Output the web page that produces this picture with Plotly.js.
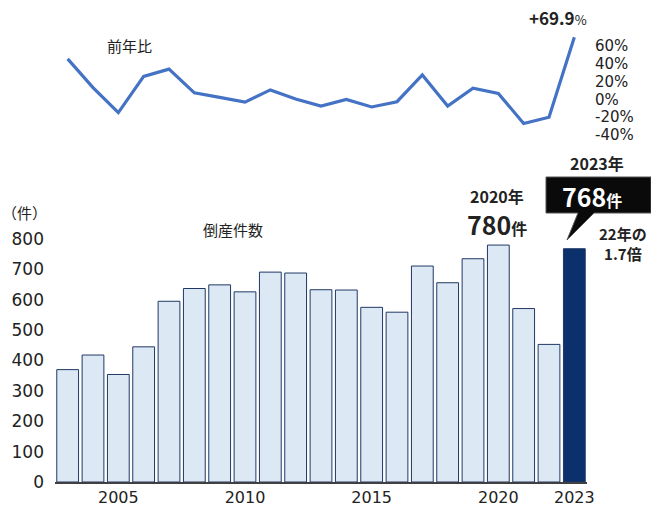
<!DOCTYPE html>
<html>
<head>
<meta charset="utf-8">
<script src="https://cdn.plot.ly/plotly-3.0.1.min.js"></script>
<style>html,body{margin:0;padding:0;background:#fff;}#chart{width:651px;height:506px;}</style>
</head>
<body>
<div id="chart"></div>
<script>
const years = [2003,2004,2005,2006,2007,2008,2009,2010,2011,2012,2013,2014,2015,2016,2017,2018,2019,2020,2021,2022,2023];
const cases = [370,418,354,445,595,637,649,626,691,688,633,632,575,559,711,656,735,780,571,453,768];
const yoy = [45.6,13.3,-14.8,25.9,34.0,7.4,2.2,-3.0,10.7,0.4,-7.4,0.0,-8.5,-2.6,27.4,-7.4,12.6,6.7,-27.0,-20.0,69.9];
const xTicks = [2005,2010,2015,2020,2023];
const yTicks = [0,100,200,300,400,500,600,700,800];
const y2Ticks = [-40,-20,0,20,40,60];
const y2Labels = ['-40%','-20%','0%','20%','40%','60%'];

const FONT = '"Noto Sans CJK JP", "Noto Sans", sans-serif';
const NUMFONT = '"DejaVu Sans", "Noto Sans CJK JP", sans-serif';
const W = 651, H = 506;
const mL = 55, mR = 64, mT = 10, mB = 24;
const pw = W - mL - mR, ph = H - mT - mB;
const px = v => (v - mL) / pw;
const py = v => (H - mB - v) / ph;

const barFill = years.map(y => y === 2023 ? '#0b306c' : '#dde8f5');

const traces = [
  {
    type: 'bar', x: years, y: cases, xaxis: 'x', yaxis: 'y',
    marker: {color: barFill, line: {color: '#1f3864', width: 1}},
    hoverinfo: 'skip'
  },
  {
    type: 'scatter', mode: 'lines', x: years, y: yoy, xaxis: 'x', yaxis: 'y2',
    line: {color: '#4472c4', width: 3.2},
    hoverinfo: 'skip'
  }
];

function ann(text, x, y, size, opts) {
  return Object.assign({
    text: text, x: px(x), y: py(y), xref: 'paper', yref: 'paper',
    showarrow: false, xanchor: 'center', yanchor: 'middle', borderpad: 0,
    font: {family: FONT, size: size, color: '#222'}
  }, opts || {});
}

const annotations = [
  ann('前年比', 129, 45, 15),
  ann('倒産件数', 233, 229, 15),
  ann('（件）', 24, 213, 15),
  ann('<b>+69.9</b><span style="font-size:13px">%</span>', 558, 18, 17),
  ann('<b>2020年</b>', 497, 196, 16),
  ann('<b>780<span style="font-size:16px">件</span></b>', 497, 224, 25),
  ann('<b>2023年</b>', 597, 163, 16),
  ann('<b><span style="font-size:25px">768</span>件</b>', 592, 196, 16, {font: {family: FONT, size: 16, color: '#fff'}}),
  ann('<b>22年の</b><br><b>1.7倍</b>', 623, 243, 15)
];

const calloutPath = 'M ' + px(546) + ',' + py(177) + ' L ' + px(651) + ',' + py(177) +
  ' L ' + px(651) + ',' + py(213) + ' L ' + px(594) + ',' + py(213) +
  ' L ' + px(567) + ',' + py(240) + ' L ' + px(578) + ',' + py(213) +
  ' L ' + px(546) + ',' + py(213) + ' Z';

const layout = {
  width: W, height: H,
  margin: {l: mL, r: mR, t: mT, b: mB, pad: 0},
  paper_bgcolor: '#fff', plot_bgcolor: 'rgba(0,0,0,0)',
  showlegend: false,
  bargap: 0.14,
  font: {family: FONT, size: 17, color: '#222'},
  xaxis: {
    range: [2002.5, 2023.5], tickmode: 'array', tickvals: xTicks, ticktext: xTicks.map(String),
    showgrid: false, zeroline: false, showline: true, linecolor: '#404040', linewidth: 1.5,
    ticks: '', ticklabelstandoff: 0, tickfont: {family: NUMFONT, size: 16, color: '#222'}
  },
  yaxis: {
    domain: [0, 243 / ph], range: [0, 800], tickmode: 'array', tickvals: yTicks,
    showgrid: false, zeroline: false, showline: false, ticks: '',
    ticklabelstandoff: 10, tickfont: {family: NUMFONT, size: 17, color: '#222'}
  },
  yaxis2: {
    domain: [py(139.45), py(32.65)], range: [-45, 75], anchor: 'x', side: 'right',
    tickmode: 'array', tickvals: y2Ticks, ticktext: y2Labels,
    showgrid: false, zeroline: false, showline: false, ticks: '',
    ticklabelstandoff: 7, tickfont: {family: NUMFONT, size: 15, color: '#222'}
  },
  shapes: [
    {type: 'path', xref: 'paper', yref: 'paper', path: calloutPath,
     fillcolor: '#0a0a0a', line: {color: '#555', width: 1}}
  ],
  annotations: annotations
};

Plotly.newPlot('chart', traces, layout, {staticPlot: true, displayModeBar: false});
</script>
</body>
</html>
